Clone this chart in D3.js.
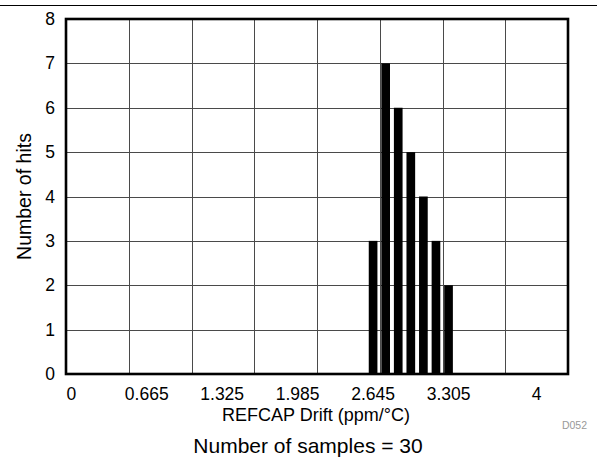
<!DOCTYPE html>
<html>
<head>
<meta charset="utf-8">
<script src="https://cdn.jsdelivr.net/npm/d3@7/dist/d3.min.js"></script>
<style>
  html, body { margin: 0; padding: 0; background: #fff; }
  svg { display: block; }
  text { font-family: "Liberation Sans", Arial, sans-serif; fill: #000; }
</style>
</head>
<body>
<svg id="chart" width="597" height="460"></svg>
<script>
// ---- data ----
const binCount = 40;                                   // histogram bins across the axis
const barBins = [24, 25, 26, 27, 28, 29, 30];           // bin index of each bar
const barCenters = [2.645, 2.755, 2.865, 2.975, 3.085, 3.195, 3.305]; // ppm/°C
const hits = [3, 7, 6, 5, 4, 3, 2];
const xTickBins = [0, 6, 12, 18, 24, 30, 37];
const xTickLabels = ["0", "0.665", "1.325", "1.985", "2.645", "3.305", "4"];
const yTicks = [0, 1, 2, 3, 4, 5, 6, 7, 8];
const xTitle = "REFCAP Drift (ppm/°C)";
const yTitle = "Number of hits";
const noteText = "Number of samples = 30";
const codeText = "D052";

// ---- layout ----
const W = 597, H = 460;
const plot = { left: 66, right: 568, top: 19, bottom: 374 };
const FONT = "Liberation Sans, Arial, sans-serif";

const svg = d3.select("#chart");

const x = d3.scaleBand()
  .domain(d3.range(binCount))
  .range([plot.left - 1, plot.right])
  .paddingInner(0.31)
  .paddingOuter(0.155);

const y = d3.scaleLinear().domain([0, 8]).range([plot.bottom, plot.top]);
const gridX = d3.scaleLinear().domain([0, 8]).range([plot.left, plot.right]);

// top rule
svg.append("line")
  .attr("x1", 0).attr("x2", W).attr("y1", 5.5).attr("y2", 5.5)
  .attr("stroke", "#000").attr("stroke-width", 1.2);

// grid
const grid = svg.append("g").attr("stroke", "#4a4a4a").attr("stroke-width", 1);
grid.selectAll("line.h").data(yTicks.slice(1, -1)).join("line")
  .attr("class", "h")
  .attr("x1", plot.left).attr("x2", plot.right)
  .attr("y1", d => Math.round(y(d)) + 0.5).attr("y2", d => Math.round(y(d)) + 0.5);
grid.selectAll("line.v").data(d3.range(1, 8)).join("line")
  .attr("class", "v")
  .attr("y1", plot.top).attr("y2", plot.bottom)
  .attr("x1", d => Math.round(gridX(d)) + 0.5).attr("x2", d => Math.round(gridX(d)) + 0.5);

// bars
svg.append("g").selectAll("rect").data(hits).join("rect")
  .attr("x", (d, i) => x(barBins[i]))
  .attr("width", x.bandwidth())
  .attr("y", d => y(d))
  .attr("height", d => y(0) - y(d))
  .attr("fill", "#000")
  .append("title").text((d, i) => barCenters[i] + ": " + d);

// frame
svg.append("rect")
  .attr("x", plot.left).attr("y", plot.top)
  .attr("width", plot.right - plot.left).attr("height", plot.bottom - plot.top)
  .attr("fill", "none").attr("stroke", "#000").attr("stroke-width", 2.6);

// y axis labels
const yAxis = d3.axisLeft(y).tickValues(yTicks).tickSize(0).tickPadding(11).tickFormat(d3.format("d"));
const gy = svg.append("g").attr("transform", `translate(${plot.left},0)`).call(yAxis);
gy.select(".domain").remove();
gy.selectAll("text").style("font-size", "17.5px").style("font-family", FONT);

// x axis labels
const xAxis = d3.axisBottom(x).tickValues(xTickBins).tickSize(0).tickPadding(14)
  .tickFormat((d, i) => xTickLabels[i]);
const gx = svg.append("g").attr("transform", `translate(0,${plot.bottom})`).call(xAxis);
gx.select(".domain").remove();
gx.selectAll("text").style("font-size", "17.5px").style("font-family", FONT);

// titles
svg.append("text")
  .attr("x", 316).attr("y", 421)
  .attr("text-anchor", "middle").style("font-size", "18px").text(xTitle);

svg.append("text")
  .attr("transform", `translate(31,${(plot.top + plot.bottom) / 2}) rotate(-90)`)
  .attr("text-anchor", "middle").style("font-size", "19.5px").text(yTitle);

svg.append("text")
  .attr("x", 308).attr("y", 453)
  .attr("text-anchor", "middle").style("font-size", "21px").text(noteText);

svg.append("text")
  .attr("x", 587).attr("y", 429)
  .attr("text-anchor", "end").style("font-size", "10.5px").style("fill", "#999").text(codeText);
</script>
</body>
</html>
